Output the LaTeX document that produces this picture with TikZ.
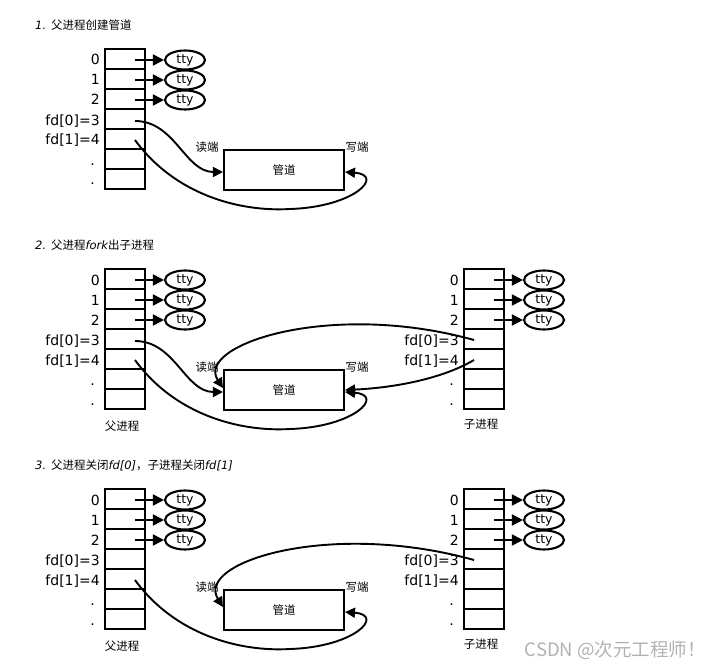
\documentclass[tikz,border=0pt]{standalone}
\usepackage{fontspec}
\setmainfont{DejaVu Sans}
\newfontfamily\cjk{Noto Sans CJK SC}
\usetikzlibrary{arrows.meta,shapes.geometric,calc}
\tikzset{
 cell/.style={draw, line width=2.1pt, minimum width=40pt, minimum height=20pt, inner sep=0pt},
 ttyn/.style={draw, ellipse, line width=2.1pt, minimum width=40pt, minimum height=19pt, inner sep=0pt, font=\fontsize{12.5}{14}\selectfont},
 lab/.style={anchor=base east, inner sep=0pt, font=\fontsize{14}{16}\selectfont},
 zh/.style={inner sep=0pt, font=\cjk\fontsize{11.5}{13}\selectfont},
 ttl/.style={anchor=west, inner sep=0pt, font=\fontsize{11.5}{13}\selectfont},
 arr/.style={line width=1.9pt, -{Triangle[length=11pt,width=11pt]}},
 curv/.style={line width=1.9pt, -{Triangle[length=10pt,width=10pt]}},
 pipebox/.style={draw, line width=2.1pt, minimum width=120pt, minimum height=40pt, inner sep=0pt, font=\cjk\fontsize{11.5}{13}\selectfont},
 wm/.style={anchor=east, inner sep=0pt, text=black!30, font=\cjk\fontsize{18.5}{20}\selectfont},
}
\newcommand\fdtab[3]{%
 \foreach \i in {0,...,6}{\node[cell] (#1-\i) at (#2+20,#3+10+20*\i) {};}
 \foreach \i in {0,1,2}{
   \node[ttyn] (#1-t\i) at (#2+80,#3+11+20*\i) {tty};
   \draw[arr] ([xshift=10pt,yshift=-1pt]#1-\i.center) -- (#1-t\i);
   \node[lab] at ([xshift=-4pt,yshift=-6pt]#1-\i.west) {\i};
 }
 \node[lab] at ([xshift=-4pt,yshift=-6pt]#1-3.west) {fd[0]=3};
 \node[lab] at ([xshift=-4pt,yshift=-6pt]#1-4.west) {fd[1]=4};
 \node[lab] at ([xshift=-9pt,yshift=-6pt]#1-5.west) {.};
 \node[lab] at ([xshift=-9pt,yshift=-6pt]#1-6.west) {.};
}
\begin{document}
\begin{tikzpicture}[x=1pt,y=-1pt]
\fill[white] (0,0) rectangle (716,669);
\useasboundingbox (0,0) rectangle (716,669);

% ---------- section 1 ----------
\node[ttl] (t1) at (35,25) {{\itshape 1.} {\cjk 父进程创建管道}};
\fdtab{A}{105}{49}
\node[pipebox] (Apipe) at (284,170) {管道};
\node[zh] (Ar) at (207,147) {读端};
\node[zh] (Aw) at (357,147) {写端};
\draw[curv] ([xshift=10pt,yshift=-2pt]A-3.center) .. controls (175,121) and (185,172) .. ([yshift=-2pt]Apipe.west);
\draw[curv] ([xshift=10pt,yshift=-1pt]A-4.center) .. controls (175,195) and (240,212) .. (290,209) .. controls (355,207) and (385,175) .. ([yshift=-2pt]Apipe.east);

% ---------- section 2 ----------
\node[ttl] (t2) at (35,245) {{\itshape 2.} {\cjk 父进程}{\itshape fork}{\cjk 出子进程}};
\fdtab{B}{105}{269}
\fdtab{C}{464}{269}
\node[pipebox] (Bpipe) at (284,390) {管道};
\node[zh] (Br) at (207,367) {读端};
\node[zh] (Bw) at (357,367) {写端};
\node[zh] (Bp) at (122,426) {父进程};
\node[zh] (Cp) at (481,424) {子进程};
\draw[curv] ([xshift=10pt,yshift=-2pt]B-3.center) .. controls (175,341) and (185,392) .. ([yshift=-2pt]Bpipe.west);
\draw[curv] ([xshift=10pt,yshift=-1pt]B-4.center) .. controls (175,415) and (240,432) .. (290,429) .. controls (355,427) and (385,395) .. ([yshift=-2pt]Bpipe.east);
\draw[curv] ([xshift=-10pt,yshift=-1pt]C-3.center) .. controls (330,300) and (195,345) .. ([yshift=2pt]Bpipe.west);
\draw[curv] ([xshift=-10pt,yshift=-1pt]C-4.center) .. controls (440,380) and (390,388) .. (Bpipe.east);

% ---------- section 3 ----------
\node[ttl] (t3) at (35,465) {{\itshape 3.} {\cjk 父进程关闭}{\itshape fd[0]}{\cjk ，子进程关闭}{\itshape fd[1]}};
\fdtab{D}{105}{489}
\fdtab{E}{464}{489}
\node[pipebox] (Dpipe) at (284,610) {管道};
\node[zh] (Dr) at (207,587) {读端};
\node[zh] (Dw) at (357,587) {写端};
\node[zh] (Dp) at (122,646) {父进程};
\node[zh] (Ep) at (481,644) {子进程};
\draw[curv] ([xshift=10pt,yshift=-1pt]D-4.center) .. controls (175,635) and (240,652) .. (290,649) .. controls (355,647) and (385,615) .. ([yshift=-2pt]Dpipe.east);
\draw[curv] ([xshift=-10pt,yshift=-1pt]E-3.center) .. controls (330,520) and (195,562) .. ([yshift=3pt]Dpipe.west);

\node[wm] (wmk) at (706,650) {CSDN @次元工程师！};
\end{tikzpicture}
\end{document}
